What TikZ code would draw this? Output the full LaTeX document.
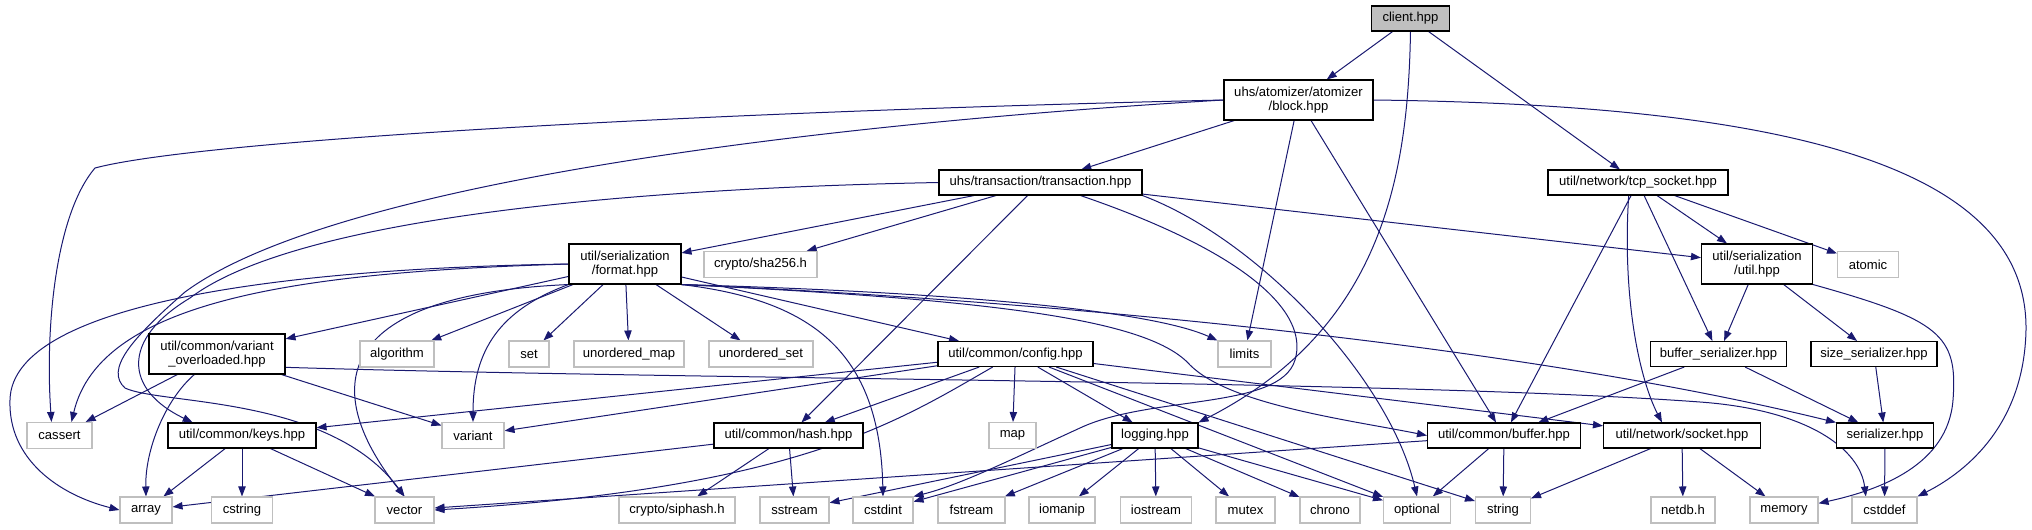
\documentclass[tikz,border=0pt]{standalone}
\usepackage{fontspec}
\setmainfont{Liberation Sans}
\usepackage{tikz}
\usetikzlibrary{arrows.meta,backgrounds}

\definecolor{edgeblue}{HTML}{191970}
\definecolor{greybox}{HTML}{BFBFBF}

\begin{document}
\begin{tikzpicture}[
  x=0.75pt, y=-0.75pt,
  >={Triangle[length=7.5pt,width=5.5pt]},
  box/.style={rectangle,fill=white,inner xsep=2pt,inner ysep=1pt,align=center,font=\fontsize{9.8}{10.5}\selectfont},
  hdr/.style={box,draw=black,line width=0.8pt,minimum height=18.75pt},
  hdrtwo/.style={hdr,minimum height=30pt},
  sys/.style={box,draw=greybox,line width=0.8pt,minimum height=19.5pt},
  root/.style={hdr,fill=greybox},
  wd/.style={minimum width=#1*0.75pt},
  edge/.style={->,draw=edgeblue,line width=0.75pt}
]
\useasboundingbox (0,0) rectangle (2032,529);

% ===================== header nodes, top to bottom =====================
\node[root,wd=78] (client) at (1410.5,18.5) {client.hpp};

\node[hdrtwo,wd=149] (block) at (1298.5,100) {uhs/atomizer/atomizer\\/block.hpp};

\node[hdr,wd=203] (transaction) at (1040.5,182.5) {uhs/transaction/transaction.hpp};
\node[hdr,wd=180] (tcpsock) at (1638,182.5) {util/network/tcp\_socket.hpp};

\node[hdrtwo,wd=112] (format) at (625,264) {util/serialization\\/format.hpp};
\node[sys,wd=113] (sha) at (760.5,264.5) {crypto/sha256.h};
\node[hdrtwo,wd=111] (serutil) at (1757,264) {util/serialization\\/util.hpp};
\node[sys,wd=61] (atomic) at (1868,264.5) {atomic};

\node[hdrtwo,wd=136] (varover) at (217,354) {util/common/variant\\\_overloaded.hpp};
\node[sys,wd=74] (algorithm) at (397,354) {algorithm};
\node[sys,wd=40] (set) at (529,354) {set};
\node[sys,wd=110] (umap) at (629,354) {unordered\_map};
\node[sys,wd=104] (uset) at (761,354) {unordered\_set};
\node[hdr,wd=155] (config) at (1015.5,354) {util/common/config.hpp};
\node[sys,wd=53] (limits) at (1244.5,354) {limits};
\node[hdr,wd=136] (bufser) at (1718.5,354) {buffer\_serializer.hpp};
\node[hdr,wd=126] (sizeser) at (1874,354) {size\_serializer.hpp};

\node[sys,wd=65] (cassert) at (59.5,435.5) {cassert};
\node[hdr,wd=148] (keys) at (242,435.5) {util/common/keys.hpp};
\node[sys,wd=62] (variant) at (473,435.5) {variant};
\node[hdr,wd=149] (hash) at (788.5,435.5) {util/common/hash.hpp};
\node[sys,wd=47] (map) at (1012.5,435.5) {map};
\node[hdr,wd=86] (logging) at (1155,435.5) {logging.hpp};
\node[hdr,wd=153] (buffer) at (1504,435.5) {util/common/buffer.hpp};
\node[hdr,wd=157] (socket) at (1682,435.5) {util/network/socket.hpp};
\node[hdr,wd=97] (serializer) at (1885,435.5) {serializer.hpp};

% ===================== system headers, bottom row =====================
\node[sys,wd=116] (siphash) at (677,510) {crypto/siphash.h};
\foreach \nm/\cx/\w in {array/146/52, cstring/242/61, vector/404.5/59,
    sstream/794.5/69, cstdint/883/60, fstream/971.5/67, iomanip/1062/66,
    iostream/1156/71, mutex/1245.5/59, chrono/1330/60, optional/1417/67,
    string/1503/55, memory/1784/68, cstddef/1884.5/65}
  \node[sys,wd=\w] (\nm) at (\cx,510) {\nm};
\node[sys,wd=64] (netdb) at (1683,510) {netdb.h};

% ===================== include edges =====================
\begin{scope}[on background layer]
% client.hpp
\draw[edge] (client) -- (block);
\draw[edge] (client) -- (tcpsock);
\draw[edge] (client.south) .. controls (1408,180) and (1380,330) .. (logging.north east);

% block.hpp
\draw[edge] (block) -- (transaction);
\draw[edge] (block) -- (limits);
\draw[edge] (block) -- (buffer);
\draw[edge] (block.west) .. controls (700,112) and (200,140) .. (95,168)
  .. controls (55,215) and (45,330) .. ([xshift=-6pt]cassert.north);
\draw[edge] (block.west) .. controls (800,125) and (330,185) .. (185,292)
  .. controls (130,340) and (105,370) .. (125,388)
  .. controls (160,405) and (330,395) .. (vector.north);
\draw[edge] (block.east) .. controls (1800,105) and (2028,170) .. (2026,330)
  .. controls (2024,430) and (1960,475) .. (cstddef.north east);

% transaction.hpp
\draw[edge] (transaction) -- (format);
\draw[edge] (transaction) -- (sha);
\draw[edge] (transaction) -- (hash);
\draw[edge] (transaction) -- (serutil);
\draw[edge] (transaction.west) .. controls (650,188) and (300,215) .. (190,298)
  .. controls (120,340) and (125,390) .. ([xshift=-37pt]keys.north);
\draw[edge] ([xshift=30pt]transaction.south) .. controls (1240,250) and (1310,310) .. (1295,360)
  .. controls (1280,410) and (1150,395) .. (1080,428)
  .. controls (1010,460) and (960,485) .. (cstdint.north east);
\draw[edge] (transaction.south east) .. controls (1260,240) and (1390,380) .. (optional.north);

% tcp_socket.hpp
\draw[edge] (tcpsock) -- (buffer);
\draw[edge] (tcpsock) -- (serutil);
\draw[edge] (tcpsock) -- (bufser);
\draw[edge] (tcpsock) -- (atomic);
\draw[edge] ([xshift=-7pt]tcpsock.south) .. controls (1622,300) and (1640,380) .. ([xshift=-15pt]socket.north);

% format.hpp
\foreach \t in {varover,algorithm,set,umap,uset,config}
  \draw[edge] (format) -- (\t);
\draw[edge] (format.west) .. controls (300,268) and (12,300) .. (10,400)
  .. controls (8,460) and (60,495) .. (array.west);
\draw[edge] (format.west) .. controls (300,272) and (100,300) .. ([xshift=9pt]cassert.north);
\draw[edge] (format.south west) .. controls (330,295) and (320,390) .. (vector.north);
\draw[edge] (format.south west) .. controls (500,310) and (473,350) .. (variant.north);
\draw[edge] (format.south east) .. controls (810,300) and (880,350) .. (cstdint.north);
\draw[edge] (format.south east) .. controls (950,292) and (1150,310) .. (limits.north west);
\draw[edge] (format.south east) .. controls (1000,298) and (1500,340) .. (serializer.north west);
\draw[edge] (format.south east) .. controls (1000,300) and (1150,320) .. (1190,365)
  .. controls (1230,405) and (1350,420) .. (buffer.west);

% variant_overloaded.hpp
\draw[edge] (varover) -- (cassert);
\draw[edge] (varover) -- (variant);
\draw[edge] ([xshift=-17pt]varover.south) .. controls (165,400) and (145,450) .. (array.north);
\draw[edge] ([yshift=-10pt]varover.east) .. controls (700,380) and (1400,380) .. (1700,402)
  .. controls (1810,410) and (1860,450) .. ([xshift=-14pt]cstddef.north);

% config.hpp
\foreach \t in {keys,variant,hash,map,logging,optional,string,socket}
  \draw[edge] (config) -- (\t);
\draw[edge] (config) .. controls (900,420) and (800,488) .. (vector.east);

% keys.hpp, hash.hpp
\foreach \t in {array,cstring,vector}
  \draw[edge] (keys) -- (\t);
\foreach \t in {array,siphash,sstream}
  \draw[edge] (hash) -- (\t);

% logging.hpp
\foreach \t in {sstream,cstdint,fstream,iomanip,iostream,mutex,chrono,optional}
  \draw[edge] (logging) -- (\t);

% buffer.hpp, socket.hpp
\foreach \t in {optional,string,vector}
  \draw[edge] (buffer) -- (\t);
\foreach \t in {string,netdb,memory}
  \draw[edge] (socket) -- (\t);

% serialization/util.hpp and serializers
\draw[edge] (serutil) -- (bufser);
\draw[edge] (serutil) -- (sizeser);
\draw[edge] (serutil.south east) .. controls (1940,320) and (1958,335) .. (1953,400)
  .. controls (1948,465) and (1880,490) .. ([yshift=5pt]memory.east);
\draw[edge] (bufser) -- (buffer);
\draw[edge] (bufser) -- (serializer);
\draw[edge] (sizeser) -- (serializer);
\draw[edge] (serializer) -- (cstddef);
\end{scope}

\end{tikzpicture}
\end{document}
